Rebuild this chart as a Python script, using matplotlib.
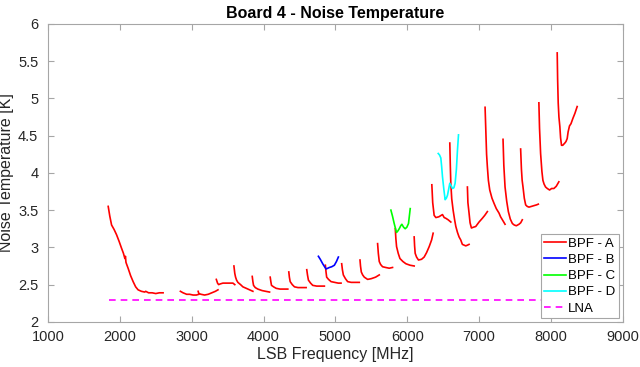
import matplotlib
matplotlib.use("Agg")
import matplotlib.pyplot as plt

# BPF - A is measured in many separate LO sweeps, each one its own piece of line
bpf_a_freq = [
    [1838, 1860, 1885, 1920, 1954, 1990, 2023, 2050, 2070, 2078, 2085, 2092, 2115, 2150, 2185, 2220, 2254, 2300, 2347, 2360, 2400, 2450, 2500, 2550, 2602],
    [2843, 2880, 2930, 2972, 3020, 3065, 3100],
    [3090, 3100, 3130, 3180, 3230, 3280, 3330, 3366],
    [3343, 3360, 3375, 3400, 3435, 3500, 3574, 3600],
    [3588, 3600, 3611, 3625, 3643, 3680, 3713, 3760, 3806, 3852],
    [3843, 3852, 3861, 3885, 3921, 3980, 4030, 4084],
    [4093, 4102, 4111, 4140, 4176, 4230, 4290, 4338],
    [4352, 4360, 4371, 4400, 4431, 4480, 4540, 4593],
    [4602, 4612, 4625, 4655, 4685, 4740, 4800, 4847],
    [4861, 4870, 4879, 4905, 4940, 4990, 5040, 5079],
    [5088, 5098, 5111, 5140, 5171, 5220, 5280, 5333],
    [5343, 5350, 5361, 5380, 5403, 5449, 5500, 5560, 5611],
    [5588, 5598, 5611, 5630, 5657, 5700, 5750, 5796],
    [5834, 5842, 5852, 5875, 5899, 5940, 5982, 6040, 6097],
    [6097, 6103, 6111, 6130, 6157, 6200, 6236, 6270, 6306, 6340, 6361],
    [6343, 6355, 6375, 6399, 6440, 6491, 6515, 6538, 6570, 6607],
    [6593, 6600, 6607, 6620, 6639, 6660, 6677, 6700, 6722, 6745, 6768, 6815, 6840, 6861],
    [6838, 6845, 6861, 6875, 6894, 6920, 6954, 7000, 7046, 7080, 7116],
    [7084, 7095, 7105, 7116, 7130, 7149, 7180, 7209, 7240, 7278, 7300, 7325, 7362],
    [7334, 7345, 7362, 7385, 7408, 7435, 7464, 7490, 7519, 7556, 7580, 7602],
    [7579, 7590, 7600, 7612, 7630, 7649, 7670, 7695, 7730, 7764, 7800, 7825],
    [7833, 7842, 7857, 7875, 7889, 7905, 7926, 7950, 7982, 8010, 8042, 8075, 8111],
    [8088, 8094, 8102, 8112, 8125, 8135, 8148, 8165, 8194, 8210, 8227, 8240, 8259, 8280, 8306, 8335, 8366],
]
bpf_a_temp = [
    [3.55, 3.42, 3.30, 3.24, 3.17, 3.08, 2.99, 2.92, 2.85, 2.88, 2.80, 2.78, 2.72, 2.62, 2.54, 2.47, 2.43, 2.41, 2.40, 2.41, 2.39, 2.39, 2.38, 2.39, 2.39],
    [2.41, 2.39, 2.37, 2.37, 2.36, 2.36, 2.37],
    [2.41, 2.38, 2.37, 2.36, 2.37, 2.39, 2.41, 2.43],
    [2.57, 2.52, 2.50, 2.51, 2.52, 2.52, 2.52, 2.50],
    [2.75, 2.65, 2.60, 2.56, 2.53, 2.50, 2.47, 2.45, 2.43, 2.41],
    [2.61, 2.54, 2.49, 2.46, 2.44, 2.42, 2.41, 2.40],
    [2.60, 2.54, 2.49, 2.47, 2.45, 2.44, 2.44, 2.44],
    [2.67, 2.60, 2.54, 2.50, 2.47, 2.46, 2.46, 2.46],
    [2.70, 2.63, 2.56, 2.52, 2.49, 2.48, 2.48, 2.48],
    [2.76, 2.67, 2.60, 2.57, 2.54, 2.53, 2.52, 2.52],
    [2.78, 2.70, 2.63, 2.58, 2.54, 2.53, 2.53, 2.53],
    [2.83, 2.75, 2.67, 2.63, 2.60, 2.57, 2.58, 2.60, 2.63],
    [3.05, 2.92, 2.81, 2.77, 2.74, 2.73, 2.72, 2.73],
    [3.25, 3.12, 3.01, 2.92, 2.85, 2.81, 2.78, 2.76, 2.75],
    [3.14, 3.02, 2.92, 2.87, 2.83, 2.84, 2.87, 2.93, 3.01, 3.10, 3.19],
    [3.84, 3.60, 3.43, 3.40, 3.41, 3.44, 3.40, 3.39, 3.37, 3.34],
    [4.40, 4.10, 3.86, 3.65, 3.50, 3.37, 3.28, 3.20, 3.14, 3.10, 3.04, 3.02, 3.03, 3.04],
    [3.81, 3.60, 3.46, 3.33, 3.26, 3.27, 3.28, 3.34, 3.39, 3.43, 3.48],
    [4.88, 4.55, 4.25, 4.08, 3.90, 3.77, 3.66, 3.59, 3.52, 3.46, 3.41, 3.37, 3.31],
    [4.45, 4.10, 3.81, 3.62, 3.48, 3.38, 3.32, 3.30, 3.29, 3.31, 3.33, 3.37],
    [4.32, 4.05, 3.90, 3.81, 3.66, 3.57, 3.55, 3.54, 3.55, 3.56, 3.57, 3.58],
    [4.94, 4.60, 4.26, 4.02, 3.90, 3.85, 3.81, 3.79, 3.77, 3.79, 3.79, 3.82, 3.88],
    [5.61, 5.25, 4.94, 4.75, 4.62, 4.47, 4.37, 4.37, 4.40, 4.42, 4.46, 4.55, 4.63, 4.66, 4.73, 4.80, 4.89],
]

bpf_b_freq = [4764, 4790, 4824, 4850, 4871, 4895, 4917, 4950, 4986, 5015, 5042]
bpf_b_temp = [2.88, 2.84, 2.78, 2.74, 2.71, 2.72, 2.73, 2.74, 2.76, 2.81, 2.87]

bpf_c_freq = [5773, 5795, 5819, 5835, 5852, 5870, 5889, 5910, 5926, 5950, 5972, 5995, 6018, 6030, 6042]
bpf_c_temp = [3.50, 3.42, 3.32, 3.26, 3.20, 3.22, 3.25, 3.29, 3.31, 3.27, 3.25, 3.27, 3.32, 3.42, 3.52]

bpf_d_freq = [6432, 6450, 6468, 6480, 6491, 6510, 6528, 6545, 6561, 6577, 6593, 6610, 6630, 6650, 6667, 6685, 6700, 6714]
bpf_d_temp = [4.26, 4.24, 4.20, 4.08, 3.95, 3.78, 3.64, 3.66, 3.70, 3.78, 3.86, 3.83, 3.79, 3.80, 3.86, 4.05, 4.31, 4.51]

lna_freq = [1850, 8400]
lna_temp = [2.3, 2.3]

plt.rcParams["font.family"] = ["Liberation Sans", "DejaVu Sans"]

fig = plt.figure(figsize=(6.4, 3.67), dpi=100)
ax = fig.add_axes([0.075, 0.123, 0.898, 0.812])

for i, (f, t) in enumerate(zip(bpf_a_freq, bpf_a_temp)):
    ax.plot(f, t, color="#ff0000", linewidth=1.2, label="BPF - A" if i == 0 else None)
ax.plot(bpf_b_freq, bpf_b_temp, color="#0000ff", linewidth=1.2, label="BPF - B")
ax.plot(bpf_c_freq, bpf_c_temp, color="#00ff00", linewidth=1.2, label="BPF - C")
ax.plot(bpf_d_freq, bpf_d_temp, color="#00ffff", linewidth=1.2, label="BPF - D")
ax.plot(lna_freq, lna_temp, color="#ff00ff", linewidth=1.2, linestyle=(0, (4, 3)), label="LNA")

ax.set_xlim(1000, 9000)
ax.set_ylim(2, 6)
ax.set_xticks(range(1000, 9001, 1000))
ax.set_yticks([2, 2.5, 3, 3.5, 4, 4.5, 5, 5.5, 6])
ax.set_yticklabels(["2", "2.5", "3", "3.5", "4", "4.5", "5", "5.5", "6"])

# MATLAB-ish box: grey frame, ticks inside on all four sides
for s in ax.spines.values():
    s.set_color("#a6a6a6")
    s.set_linewidth(0.8)
ax.tick_params(direction="in", top=True, right=True, length=4, width=0.8,
               color="#a6a6a6", labelcolor="#262626", labelsize=10.5)
ax.tick_params(axis="x", pad=6)
ax.tick_params(axis="y", pad=7)

ax.set_xlabel("LSB Frequency [MHz]", fontsize=11.5, color="#262626", labelpad=2)
ax.set_ylabel("Noise Temperature [K]", fontsize=11.5, color="#262626", labelpad=3)
ax.set_title("Board 4 - Noise Temperature", fontsize=11.5, fontweight="bold", pad=4)

leg = ax.legend(loc="lower right", fontsize=9.5, fancybox=False, framealpha=1,
                handlelength=1.6, handletextpad=0.2, borderpad=0.25, labelspacing=0.3,
                borderaxespad=0.3)
leg.get_frame().set_edgecolor("#a6a6a6")
leg.get_frame().set_linewidth(0.8)

fig.savefig("out.png", dpi=100)
